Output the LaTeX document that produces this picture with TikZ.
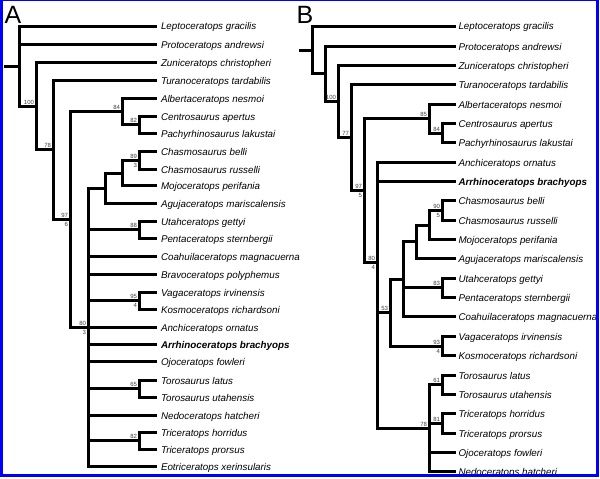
\documentclass[tikz,border=0pt]{standalone}
\usepackage{fontspec}
\setmainfont{Liberation Sans}
\begin{document}
\begin{tikzpicture}[x=1pt,y=-1pt,
  br/.style={line width=3pt},
  taxon/.style={anchor=west, inner xsep=0pt, inner ysep=0pt, outer xsep=4pt, outer ysep=0pt,
    text height=7pt, text depth=0pt, font=\fontsize{9.8}{10}\selectfont\itshape, text=black},
  taxonB/.style={taxon, outer xsep=2.5pt},
  boldtax/.style={font=\fontsize{9.8}{10}\selectfont\bfseries\itshape, text=black},
  suplab/.style={anchor=south east, inner sep=0pt, font=\fontsize{6}{6}\selectfont, text=black!75},
  bremlab/.style={anchor=north east, inner sep=0pt, font=\fontsize{6}{6}\selectfont, text=black!75},
  panel/.style={anchor=base west, inner sep=0pt, font=\fontsize{25}{25}\selectfont}]
\useasboundingbox (0,0) rectangle (600,479);
\fill[white] (0,0) rectangle (600,479);

% ---------------- Panel A ----------------
\node[panel] (lA) at (4.5,23.3) {A};
\coordinate (Aroot0) at (3.5,66.5);
\coordinate (Aroot) at (19.5,66.5);
\coordinate (A100) at (36.5,106.5);
\coordinate (A78) at (53.5,149.5);
\coordinate (A97) at (70.5,219.5);
\coordinate (Acen1) at (122.5,111.5);
\coordinate (Acen2) at (139.5,124.5);
\coordinate (Achm) at (88.5,327.5);
\coordinate (Aagu) at (105.5,188.5);
\coordinate (Amoj) at (122.5,173.5);
\coordinate (Achs) at (139.5,160.5);
\coordinate (Autah) at (139.5,229.5);
\coordinate (Avaga) at (139.5,300.5);
\coordinate (Atoro) at (139.5,388.5);
\coordinate (Atri) at (139.5,440.5);

\node[taxon] (aLep) at (157,26.5) {Leptoceratops gracilis};
\node[taxon] (aPro) at (157,44.5) {Protoceratops andrewsi};
\node[taxon] (aZun) at (157,62.5) {Zuniceratops christopheri};
\node[taxon] (aTur) at (157,80.5) {Turanoceratops tardabilis};
\node[taxon] (aAlb) at (157,98.5) {Albertaceratops nesmoi};
\node[taxon] (aCen) at (157,116.5) {Centrosaurus apertus};
\node[taxon] (aPac) at (157,133.5) {Pachyrhinosaurus lakustai};
\node[taxon] (aChb) at (157,151.5) {Chasmosaurus belli};
\node[taxon] (aChr) at (157,169.5) {Chasmosaurus russelli};
\node[taxon] (aMoj) at (157,185.5) {Mojoceratops perifania};
\node[taxon] (aAgu) at (157,203.5) {Agujaceratops mariscalensis};
\node[taxon] (aUta) at (157,221.5) {Utahceratops gettyi};
\node[taxon] (aPen) at (157,238.5) {Pentaceratops sternbergii};
\node[taxon] (aCoa) at (157,256.5) {Coahuilaceratops magnacuerna};
\node[taxon] (aBra) at (157,274.5) {Bravoceratops polyphemus};
\node[taxon] (aVag) at (157,292.5) {Vagaceratops irvinensis};
\node[taxon] (aKos) at (157,309.5) {Kosmoceratops richardsoni};
\node[taxon] (aAnc) at (157,327.5) {Anchiceratops ornatus};
\node[taxon,boldtax] (aArr) at (157,344.5) {Arrhinoceratops brachyops};
\node[taxon] (aOjo) at (157,361.5) {Ojoceratops fowleri};
\node[taxon] (aTol) at (157,380.5) {Torosaurus latus};
\node[taxon] (aTou) at (157,397.5) {Torosaurus utahensis};
\node[taxon] (aNed) at (157,415.5) {Nedoceratops hatcheri};
\node[taxon] (aTrh) at (157,432.5) {Triceratops horridus};
\node[taxon] (aTrp) at (157,449.5) {Triceratops prorsus};
\node[taxon] (aEot) at (157,466.5) {Eotriceratops xerinsularis};

\draw[br] (Aroot0) -- (Aroot);
\draw[br] (Aroot) |- (aLep.west);
\draw[br] (Aroot) |- (aPro.west);
\draw[br] (Aroot) |- (A100);
\draw[br] (A100) |- (aZun.west);
\draw[br] (A100) |- (A78);
\draw[br] (A78) |- (aTur.west);
\draw[br] (A78) |- (A97);
\draw[br] (A97) |- (Acen1);
\draw[br] (A97) |- (Achm);
\draw[br] (Acen1) |- (aAlb.west);
\draw[br] (Acen1) |- (Acen2);
\draw[br] (Acen2) |- (aCen.west);
\draw[br] (Acen2) |- (aPac.west);
\draw[br] (Achm) |- (Aagu);
\draw[br] (Achm) |- (Autah);
\draw[br] (Achm) |- (aCoa.west);
\draw[br] (Achm) |- (aBra.west);
\draw[br] (Achm) |- (Avaga);
\draw[br] (Achm) |- (aAnc.west);
\draw[br] (Achm) |- (aArr.west);
\draw[br] (Achm) |- (aOjo.west);
\draw[br] (Achm) |- (Atoro);
\draw[br] (Achm) |- (aNed.west);
\draw[br] (Achm) |- (Atri);
\draw[br] (Achm) |- (aEot.west);
\draw[br] (Aagu) |- (Amoj);
\draw[br] (Aagu) |- (aAgu.west);
\draw[br] (Amoj) |- (Achs);
\draw[br] (Amoj) |- (aMoj.west);
\draw[br] (Achs) |- (aChb.west);
\draw[br] (Achs) |- (aChr.west);
\draw[br] (Autah) |- (aUta.west);
\draw[br] (Autah) |- (aPen.west);
\draw[br] (Avaga) |- (aVag.west);
\draw[br] (Avaga) |- (aKos.west);
\draw[br] (Atoro) |- (aTol.west);
\draw[br] (Atoro) |- (aTou.west);
\draw[br] (Atri) |- (aTrh.west);
\draw[br] (Atri) |- (aTrp.west);

\node[suplab] (sA100) at ([xshift=-2.3pt,yshift=2pt]A100) {100};
\node[suplab] (sA78) at ([xshift=-2.3pt,yshift=2pt]A78) {78};
\node[suplab] (sA97) at ([xshift=-2.3pt,yshift=2pt]A97) {97};
\node[bremlab] (bA97) at ([xshift=-2.3pt,yshift=-2.2pt]A97) {6};
\node[suplab] (sAcen1) at ([xshift=-2.3pt,yshift=2pt]Acen1) {84};
\node[suplab] (sAcen2) at ([xshift=-2.3pt,yshift=2pt]Acen2) {82};
\node[suplab] (sAchs) at ([xshift=-2.3pt,yshift=2pt]Achs) {89};
\node[bremlab] (bAchs) at ([xshift=-2.3pt,yshift=-2.2pt]Achs) {3};
\node[suplab] (sAutah) at ([xshift=-2.3pt,yshift=2pt]Autah) {88};
\node[suplab] (sAvaga) at ([xshift=-2.3pt,yshift=2pt]Avaga) {95};
\node[bremlab] (bAvaga) at ([xshift=-2.3pt,yshift=-2.2pt]Avaga) {4};
\node[suplab] (sAchm) at ([xshift=-2.3pt,yshift=2pt]Achm) {80};
\node[bremlab] (bAchm) at ([xshift=-2.3pt,yshift=-2.2pt]Achm) {3};
\node[suplab] (sAtoro) at ([xshift=-2.3pt,yshift=2pt]Atoro) {65};
\node[suplab] (sAtri) at ([xshift=-2.3pt,yshift=2pt]Atri) {82};

% ---------------- Panel B ----------------
\node[panel] (lB) at (296.5,23.3) {B};
\coordinate (Broot0) at (299,50.5);
\coordinate (Broot) at (312.5,50.5);
\coordinate (Bn2) at (325.5,73.5);
\coordinate (B100) at (338.5,101.5);
\coordinate (B77) at (351.5,137.5);
\coordinate (B97) at (364.5,190.5);
\coordinate (Bcen1) at (429.5,118.5);
\coordinate (Bcen2) at (442.5,133.5);
\coordinate (B80) at (377.5,262.5);
\coordinate (B53) at (390.5,312.5);
\coordinate (Bcoa) at (403.5,279.5);
\coordinate (Bagu) at (416.5,241.5);
\coordinate (Bmoj) at (429.5,225.5);
\coordinate (Bchs) at (442.5,210.5);
\coordinate (Butah) at (442.5,287.5);
\coordinate (Bvaga) at (442.5,346.5);
\coordinate (B78) at (429.5,428.5);
\coordinate (Btoro) at (442.5,384.5);
\coordinate (Btri) at (442.5,423.5);

\node[taxonB] (bLep) at (456,26.5) {Leptoceratops gracilis};
\node[taxonB] (bPro) at (456,46.5) {Protoceratops andrewsi};
\node[taxonB] (bZun) at (456,65.5) {Zuniceratops christopheri};
\node[taxonB] (bTur) at (456,84.5) {Turanoceratops tardabilis};
\node[taxonB] (bAlb) at (456,104.5) {Albertaceratops nesmoi};
\node[taxonB] (bCen) at (456,123.5) {Centrosaurus apertus};
\node[taxonB] (bPac) at (456,142.5) {Pachyrhinosaurus lakustai};
\node[taxonB] (bAnc) at (456,162.5) {Anchiceratops ornatus};
\node[taxonB,boldtax] (bArr) at (456,181.5) {Arrhinoceratops brachyops};
\node[taxonB] (bChb) at (456,200.5) {Chasmosaurus belli};
\node[taxonB] (bChr) at (456,220.5) {Chasmosaurus russelli};
\node[taxonB] (bMoj) at (456,239.5) {Mojoceratops perifania};
\node[taxonB] (bAgu) at (456,258.5) {Agujaceratops mariscalensis};
\node[taxonB] (bUta) at (456,278.5) {Utahceratops gettyi};
\node[taxonB] (bPen) at (456,297.5) {Pentaceratops sternbergii};
\node[taxonB] (bCoa) at (456,316.5) {Coahuilaceratops magnacuerna};
\node[taxonB] (bVag) at (456,336.5) {Vagaceratops irvinensis};
\node[taxonB] (bKos) at (456,355.5) {Kosmoceratops richardsoni};
\node[taxonB] (bTol) at (456,375.5) {Torosaurus latus};
\node[taxonB] (bTou) at (456,394.5) {Torosaurus utahensis};
\node[taxonB] (bTrh) at (456,413.5) {Triceratops horridus};
\node[taxonB] (bTrp) at (456,433.5) {Triceratops prorsus};
\node[taxonB] (bOjo) at (456,452.5) {Ojoceratops fowleri};
\node[taxonB] (bNed) at (456,471.5) {Nedoceratops hatcheri};

\draw[br] (Broot0) -- (Broot);
\draw[br] (Broot) |- (bLep.west);
\draw[br] (Broot) |- (Bn2);
\draw[br] (Bn2) |- (bPro.west);
\draw[br] (Bn2) |- (B100);
\draw[br] (B100) |- (bZun.west);
\draw[br] (B100) |- (B77);
\draw[br] (B77) |- (bTur.west);
\draw[br] (B77) |- (B97);
\draw[br] (B97) |- (Bcen1);
\draw[br] (B97) |- (B80);
\draw[br] (Bcen1) |- (bAlb.west);
\draw[br] (Bcen1) |- (Bcen2);
\draw[br] (Bcen2) |- (bCen.west);
\draw[br] (Bcen2) |- (bPac.west);
\draw[br] (B80) |- (bAnc.west);
\draw[br] (B80) |- (bArr.west);
\draw[br] (B80) |- (B53);
\draw[br] (B80) |- (B78);
\draw[br] (B53) |- (Bcoa);
\draw[br] (B53) |- (Bvaga);
\draw[br] (Bcoa) |- (Bagu);
\draw[br] (Bcoa) |- (Butah);
\draw[br] (Bcoa) |- (bCoa.west);
\draw[br] (Bagu) |- (Bmoj);
\draw[br] (Bagu) |- (bAgu.west);
\draw[br] (Bmoj) |- (Bchs);
\draw[br] (Bmoj) |- (bMoj.west);
\draw[br] (Bchs) |- (bChb.west);
\draw[br] (Bchs) |- (bChr.west);
\draw[br] (Butah) |- (bUta.west);
\draw[br] (Butah) |- (bPen.west);
\draw[br] (Bvaga) |- (bVag.west);
\draw[br] (Bvaga) |- (bKos.west);
\draw[br] (B78) |- (Btoro);
\draw[br] (B78) |- (Btri);
\draw[br] (B78) |- (bOjo.west);
\draw[br] (B78) |- (bNed.west);
\draw[br] (Btoro) |- (bTol.west);
\draw[br] (Btoro) |- (bTou.west);
\draw[br] (Btri) |- (bTrh.west);
\draw[br] (Btri) |- (bTrp.west);

\node[suplab] (sB100) at ([xshift=-2.3pt,yshift=2pt]B100) {100};
\node[suplab] (sB77) at ([xshift=-2.3pt,yshift=2pt]B77) {77};
\node[suplab] (sB97) at ([xshift=-2.3pt,yshift=2pt]B97) {97};
\node[bremlab] (bB97) at ([xshift=-2.3pt,yshift=-2.2pt]B97) {5};
\node[suplab] (sBcen1) at ([xshift=-2.3pt,yshift=2pt]Bcen1) {85};
\node[suplab] (sBcen2) at ([xshift=-2.3pt,yshift=2pt]Bcen2) {84};
\node[suplab] (sB80) at ([xshift=-2.3pt,yshift=2pt]B80) {80};
\node[bremlab] (bB80) at ([xshift=-2.3pt,yshift=-2.2pt]B80) {4};
\node[suplab] (sBchs) at ([xshift=-2.3pt,yshift=2pt]Bchs) {90};
\node[bremlab] (bBchs) at ([xshift=-2.3pt,yshift=-2.2pt]Bchs) {5};
\node[suplab] (sButah) at ([xshift=-2.3pt,yshift=2pt]Butah) {83};
\node[suplab] (sB53) at ([xshift=-2.3pt,yshift=2pt]B53) {53};
\node[suplab] (sBvaga) at ([xshift=-2.3pt,yshift=2pt]Bvaga) {93};
\node[bremlab] (bBvaga) at ([xshift=-2.3pt,yshift=-2.2pt]Bvaga) {4};
\node[suplab] (sBtoro) at ([xshift=-2.3pt,yshift=2pt]Btoro) {61};
\node[suplab] (sBtri) at ([xshift=-2.3pt,yshift=2pt]Btri) {81};
\node[suplab] (sB78) at ([xshift=-2.3pt,yshift=2pt]B78) {78};

% ---------------- frame ----------------
\fill[blue] (0,0) rectangle (3,477);
\fill[blue] (0,0) rectangle (599,1);
\fill[blue] (596,0) rectangle (599,477);
\fill[blue] (0,474) rectangle (599,477);
\end{tikzpicture}
\end{document}
